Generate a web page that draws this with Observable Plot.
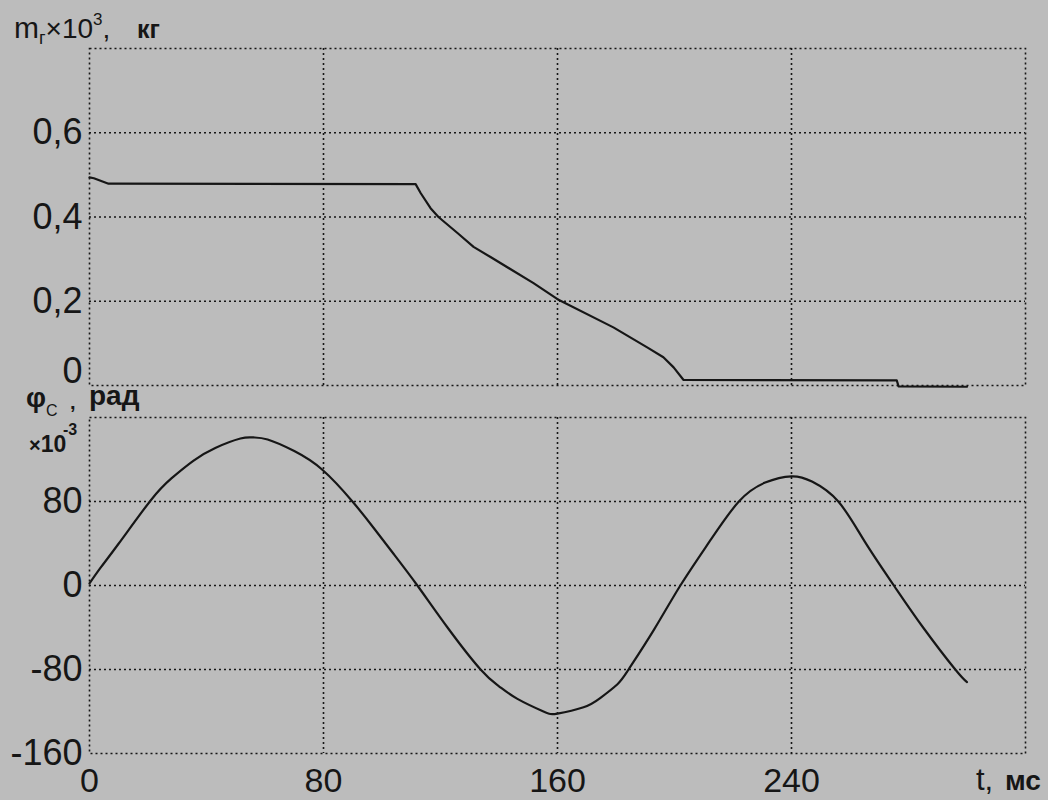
<!DOCTYPE html>
<html>
<head>
<meta charset="utf-8">
<script src="https://cdn.jsdelivr.net/npm/d3@7"></script>
<script src="https://cdn.jsdelivr.net/npm/@observablehq/plot@0.6"></script>
<style>
  html, body { margin: 0; padding: 0; background: #bcbcbc; overflow: hidden; }
  #wrap { position: relative; width: 1048px; height: 800px; font-family: "Liberation Sans", Arial, sans-serif; color: #111; }
  .panel { position: absolute; left: 0; }
</style>
</head>
<body>
<div id="wrap"></div>
<script>
// ---- data ----
// time axis (ms)
const tTicks = [0, 80, 160, 240];
const tDomain = [0, 320];

// upper panel: mass m_г ×10^3, kg
const massTicks = [0, 0.2, 0.4, 0.6];
const massDomain = [0, 0.8];
const massT = [0, 1.5, 6.5, 111.5, 113.2, 116.6, 119.3, 125.8, 131.3, 137.1, 151.8, 160, 179.1, 190.8, 196.2, 199.7, 203.1, 276, 276.6, 300];
const massV = [0.494, 0.492, 0.479, 0.478, 0.457, 0.421, 0.400, 0.362, 0.329, 0.305, 0.243, 0.205, 0.138, 0.090, 0.067, 0.043, 0.013, 0.012, -0.002, -0.003];

// lower panel: angle φ_C ×10^-3, rad
const phiTicks = [-160, -80, 0, 80];
const phiDomain = [-160, 160];
const phiT = [0, 3.8, 10, 20.9, 28, 35.6, 43, 51.6, 56, 60.9, 70, 79.7, 89.9, 97.1, 104, 112.1, 122.4, 133.7, 140, 146.3, 155.2, 160, 168.9, 174.7, 180.5, 184.3, 193, 202, 212, 222, 231, 240, 247, 256, 265, 275, 285, 296, 300];
const phiV = [2, 17, 40, 81, 102, 119, 131, 140, 141, 139, 128, 110, 80, 55, 30, 0, -40, -80, -96, -108, -120, -122, -116, -107, -94, -80, -42, 0, 42, 80, 98, 104, 99, 80, 42, 0, -40, -80, -92];

// ---- build ----
const ink = "#161616";
const gridStyle = { stroke: ink, strokeOpacity: 1, strokeWidth: 1.6, strokeDasharray: "2,3" };
const font = "'Liberation Sans', Arial, sans-serif";
const massFmt = d => d === 0 ? "0" : d.toFixed(1).replace(".", ",");

const massData = massT.map((t, i) => ({ t, v: massV[i] }));
const phiData = phiT.map((t, i) => ({ t, v: phiV[i] }));

const wrap = document.getElementById("wrap");

const upperPlot = Plot.plot({
  width: 1048, height: 400,
  marginLeft: 89, marginRight: 23, marginTop: 48, marginBottom: 15,
  style: { background: "transparent", fontFamily: font, fontSize: "36px", color: ink, overflow: "visible" },
  x: { domain: tDomain },
  y: { domain: massDomain },
  marks: [
    Plot.gridY(massTicks.filter(d => d > 0), gridStyle),
    Plot.gridX(tTicks.filter(d => d > 0), gridStyle),
    Plot.frame(gridStyle),
    Plot.axisY(massTicks.filter(d => d > 0), { tickSize: 0, tickPadding: 7, label: null, tickFormat: massFmt }),
    Plot.axisY(massTicks.filter(d => d === 0), { tickSize: 0, tickPadding: 7, label: null, tickFormat: massFmt, dy: -14 }),
    Plot.axisX({ ticks: [], label: null }),
    Plot.line(massData, { x: "t", y: "v", stroke: ink, strokeWidth: 2.2, curve: "linear" })
  ]
});
upperPlot.classList.add("panel");
upperPlot.style.top = "0px";
wrap.appendChild(upperPlot);

const lowerPlot = Plot.plot({
  width: 1048, height: 400,
  marginLeft: 89, marginRight: 23, marginTop: 17, marginBottom: 47,
  style: { background: "transparent", fontFamily: font, fontSize: "36px", color: ink },
  x: { domain: tDomain },
  y: { domain: phiDomain },
  marks: [
    Plot.gridY(phiTicks.filter(d => d > -160), gridStyle),
    Plot.gridX(tTicks.filter(d => d > 0), gridStyle),
    Plot.frame(gridStyle),
    Plot.axisY(phiTicks, { tickSize: 0, tickPadding: 7, label: null, tickFormat: d => String(d) }),
    Plot.axisX(tTicks, { tickSize: 0, tickPadding: 14, label: null, fontSize: 34, tickFormat: d => String(d) }),
    Plot.line(phiData, { x: "t", y: "v", stroke: ink, strokeWidth: 2.2, curve: "natural" })
  ]
});
lowerPlot.classList.add("panel");
lowerPlot.style.top = "400px";
wrap.appendChild(lowerPlot);

// ---- axis titles (real text) ----
const ov = d3.select(wrap).append("svg")
  .attr("width", 1048).attr("height", 800)
  .style("position", "absolute").style("left", 0).style("top", 0)
  .style("font-family", font).attr("fill", ink);

const mLab = ov.append("text").attr("x", 14).attr("y", 38);
mLab.append("tspan").attr("font-size", 30).text("m");
mLab.append("tspan").attr("font-size", 18).attr("dy", 6).text("г");
mLab.append("tspan").attr("font-size", 28).attr("dy", -6).text("×10");
mLab.append("tspan").attr("font-size", 17).attr("dy", -13).text("3");
mLab.append("tspan").attr("font-size", 28).attr("dy", 13).text(",");
ov.append("text").attr("x", 137).attr("y", 38).attr("font-size", 25).attr("font-weight", "bold").text("кг");

const pLab = ov.append("text").attr("x", 26).attr("y", 407);
pLab.append("tspan").attr("font-size", 28).attr("font-weight", "bold").text("φ");
pLab.append("tspan").attr("font-size", 16).attr("dy", 9).text("C");
ov.append("text").attr("x", 70).attr("y", 409).attr("font-size", 20).attr("font-weight", "bold").text(",");
ov.append("text").attr("x", 89).attr("y", 405).attr("font-size", 28).attr("font-weight", "bold").text("рад");

const sLab = ov.append("text").attr("x", 29).attr("y", 452).attr("font-weight", "bold");
sLab.append("tspan").attr("font-size", 20).text("×");
sLab.append("tspan").attr("font-size", 23).text("10");
ov.append("text").attr("x", 63).attr("y", 435).attr("font-size", 16).attr("font-weight", "bold").text("-3");

ov.append("text").attr("x", 976).attr("y", 790).attr("font-size", 31).text("t,");
ov.append("text").attr("x", 1005).attr("y", 790).attr("font-size", 28).attr("font-weight", "bold").text("мс");
</script>
</body>
</html>
